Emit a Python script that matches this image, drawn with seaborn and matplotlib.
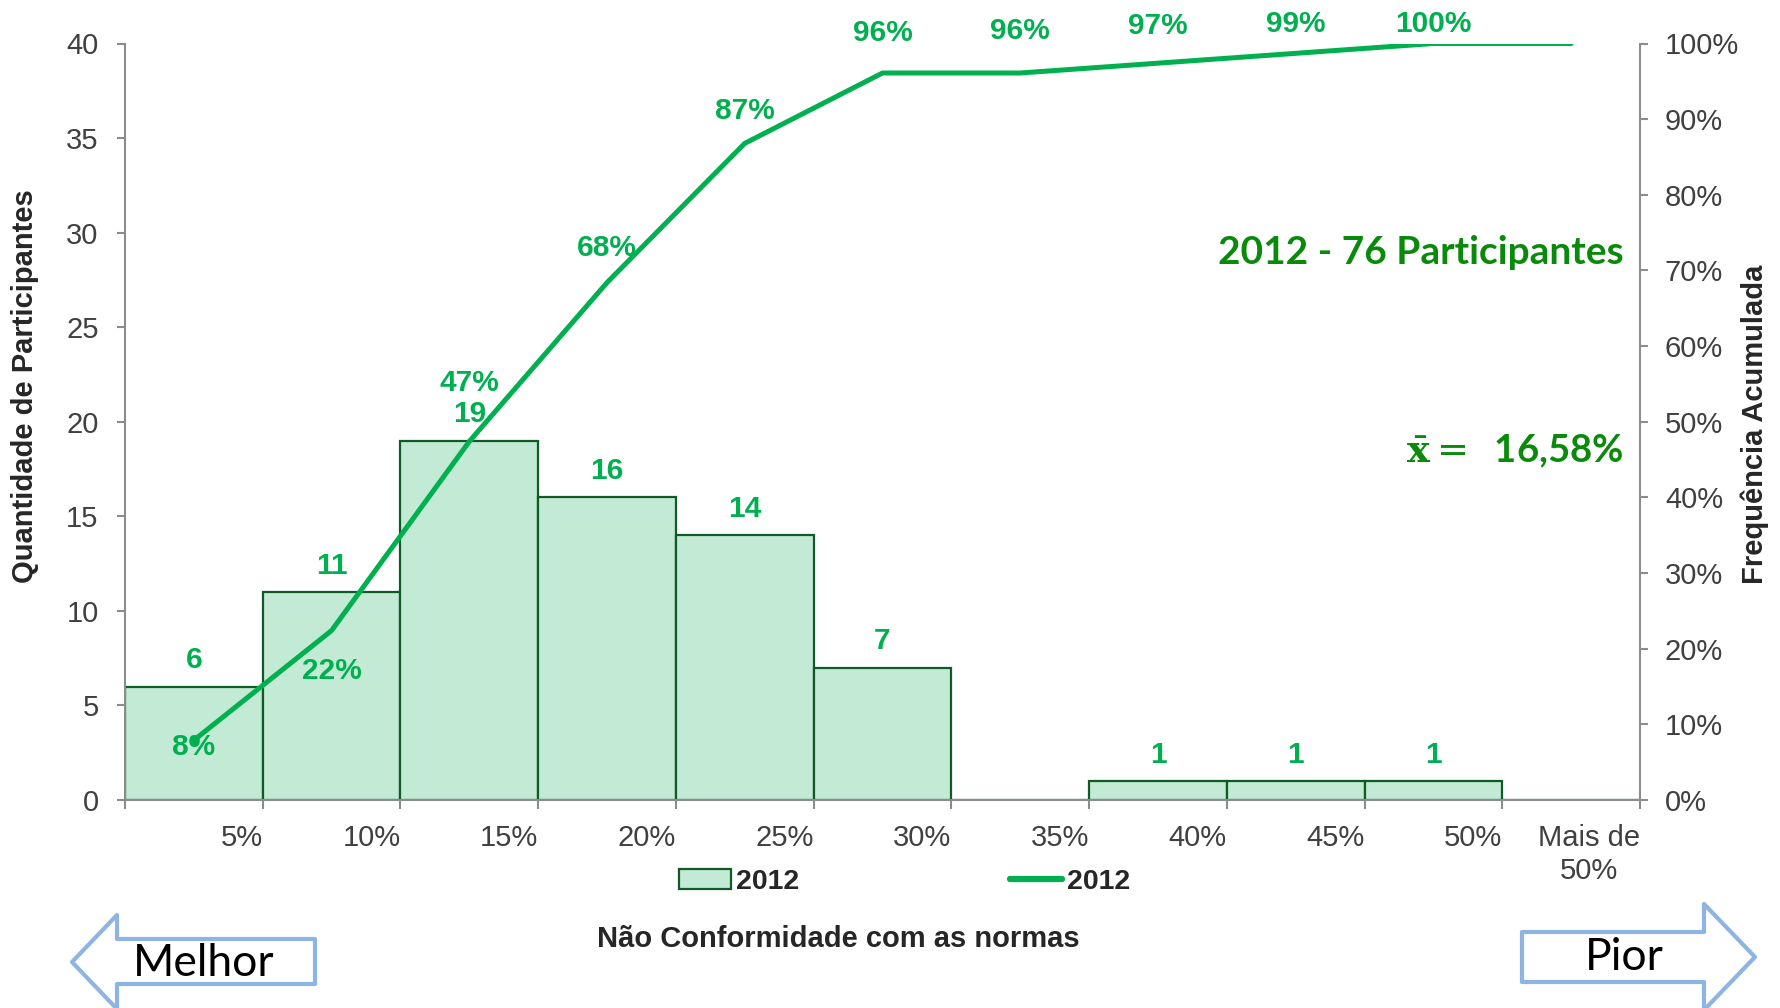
import numpy as np
import pandas as pd
import matplotlib
matplotlib.use("Agg")
import matplotlib.pyplot as plt
import seaborn as sns
from matplotlib.patches import Polygon, Patch
from matplotlib.lines import Line2D
from matplotlib.ticker import PercentFormatter

# data
faixas = ["5%", "10%", "15%", "20%", "25%", "30%", "35%", "40%", "45%", "50%", "Mais de\n50%"]
qtd = [6, 11, 19, 16, 14, 7, 0, 1, 1, 1, 0]
acumulada = [7.9, 22.4, 47.4, 68.4, 86.8, 96.1, 96.1, 97.4, 98.7, 100.0, 100.0]
rotulos_acum = ["8%", "22%", "47%", "68%", "87%", "96%", "96%", "97%", "99%", "100%", ""]

# colours
FILL = "#c2ead4"
EDGE = "#0f5a26"
LINE = "#00b050"
TITLE_GREEN = "#0a8a0a"
AXIS = "#8c8c8c"
TXT = "#404040"
ARROW = "#8db4e2"

sns.set_theme(style="white")
plt.rcParams["font.family"] = ["Liberation Sans", "DejaVu Sans"]

W, H = 1781, 1008
fig = plt.figure(figsize=(W / 100, H / 100), dpi=100)
ax = fig.add_axes([125 / W, 1 - 800 / H, (1640 - 125) / W, (800 - 43.5) / H])

df = pd.DataFrame({"faixa": faixas, "qtd": qtd})
sns.barplot(data=df, x="faixa", y="qtd", width=1.0, color=FILL, saturation=1,
            edgecolor=EDGE, linewidth=1.6, errorbar=None, ax=ax)

n = len(faixas)
ax.set_xlim(-0.5, n - 0.5)
ax.set_ylim(0, 40)
ax.set_yticks(range(0, 41, 5))
ax.set_xticks(np.arange(n) + 0.5)
ax.set_xticklabels(faixas)
for lbl in ax.get_xticklabels():
    lbl.set_ha("right")
    lbl.set_multialignment("center")
ax.set_xticks([-0.5], minor=True)
ax.set_xlabel("")
ax.set_ylabel("")

for s in ["top", "right"]:
    ax.spines[s].set_visible(False)
for s in ["left", "bottom"]:
    ax.spines[s].set_color(AXIS)
    ax.spines[s].set_linewidth(1.5)
ax.tick_params(axis="y", left=True, length=6, width=1.5, color=AXIS, pad=13,
               labelsize=21, labelcolor=TXT)
ax.tick_params(axis="x", which="both", bottom=True, length=6.5, width=1.5, color=AXIS,
               pad=11, labelsize=21, labelcolor=TXT)

# bar labels
for i, v in enumerate(qtd):
    if v > 0:
        ax.annotate(str(v), (i, v), xytext=(0, 19), textcoords="offset points",
                    ha="center", va="center", fontsize=21.5, fontweight="bold", color=LINE)

# cumulative line
ax2 = ax.twinx()
sns.lineplot(x=np.arange(n), y=acumulada, ax=ax2, color=LINE, linewidth=3.6,
             marker="o", markersize=7, markevery=[0], markeredgewidth=0)
ax2.set_ylim(0, 100)
ax2.set_yticks(range(0, 101, 10))
ax2.yaxis.set_major_formatter(PercentFormatter(decimals=0))
for s in ["top", "left", "bottom"]:
    ax2.spines[s].set_visible(False)
ax2.spines["right"].set_color(AXIS)
ax2.spines["right"].set_linewidth(1.5)
ax2.tick_params(axis="y", right=True, length=6, width=1.5, color=AXIS, pad=12,
                labelsize=21, labelcolor=TXT)
ax2.set_ylabel("")

offsets = [-5, -29, 42, 25, 23, 29, 30, 27, 21, 14, 0]
for i, (v, t) in enumerate(zip(acumulada, rotulos_acum)):
    if t:
        ax2.annotate(t, (i, v), xytext=(0, offsets[i]), textcoords="offset points",
                     ha="center", va="center", fontsize=21.5, fontweight="bold",
                     color=LINE, annotation_clip=False)

# axis titles
fig.text(25 / W, 1 - 386 / H, "Quantidade de Participantes", rotation=90,
         ha="center", va="center", fontsize=21, fontweight="bold", color="#262626")
fig.text(1755 / W, 1 - 424 / H, "Frequência Acumulada", rotation=90,
         ha="center", va="center", fontsize=21, fontweight="bold", color="#262626")
fig.text(838 / W, 1 - 939 / H, "Não Conformidade com as normas",
         ha="center", va="center", fontsize=21, fontweight="bold", color="#262626")

# legend
handles = [Patch(facecolor=FILL, edgecolor=EDGE, linewidth=1.6),
           Line2D([0], [0], color=LINE, linewidth=4.5, solid_capstyle="round")]
fig.legend(handles, ["2012", "2012"], loc="center", bbox_to_anchor=(905 / W, 1 - 882 / H),
           ncol=2, frameon=False, handlelength=1.8, handletextpad=0.2,
           columnspacing=7.4, prop={"weight": "bold", "size": 20.5}, labelcolor="#262626")

# annotations
fig.text(1624 / W, 1 - 252 / H, "2012 - 76 Participantes", ha="right", va="center",
         fontsize=28, fontweight="bold", color=TITLE_GREEN, family=["Lato", "DejaVu Sans"])
fig.text(1624 / W, 1 - 451 / H, r"$\bar{\mathbf{x}} =$  16,58%", ha="right", va="center",
         fontsize=27.5, fontweight="bold", color=TITLE_GREEN, family=["Lato", "DejaVu Sans"],
         math_fontfamily="dejavuserif")


def px(pts):
    return [(x / W, 1 - y / H) for x, y in pts]


melhor = px([(72, 962), (117, 915), (117, 939), (315, 939), (315, 984), (117, 984), (117, 1009)])
pior = px([(1522, 932), (1704, 932), (1704, 904), (1755, 957), (1704, 1010), (1704, 982), (1522, 982)])
for poly in (melhor, pior):
    fig.patches.append(Polygon(poly, closed=True, facecolor="white", edgecolor=ARROW,
                               linewidth=3, transform=fig.transFigure, figure=fig,
                               joinstyle="round"))
fig.text(204 / W, 1 - 963 / H, "Melhor", ha="center", va="center", fontsize=32,
         color="black", family=["Lato", "DejaVu Sans"])
fig.text(1624 / W, 1 - 957 / H, "Pior", ha="center", va="center", fontsize=32,
         color="black", family=["Lato", "DejaVu Sans"])

fig.savefig("out.png", dpi=100)
